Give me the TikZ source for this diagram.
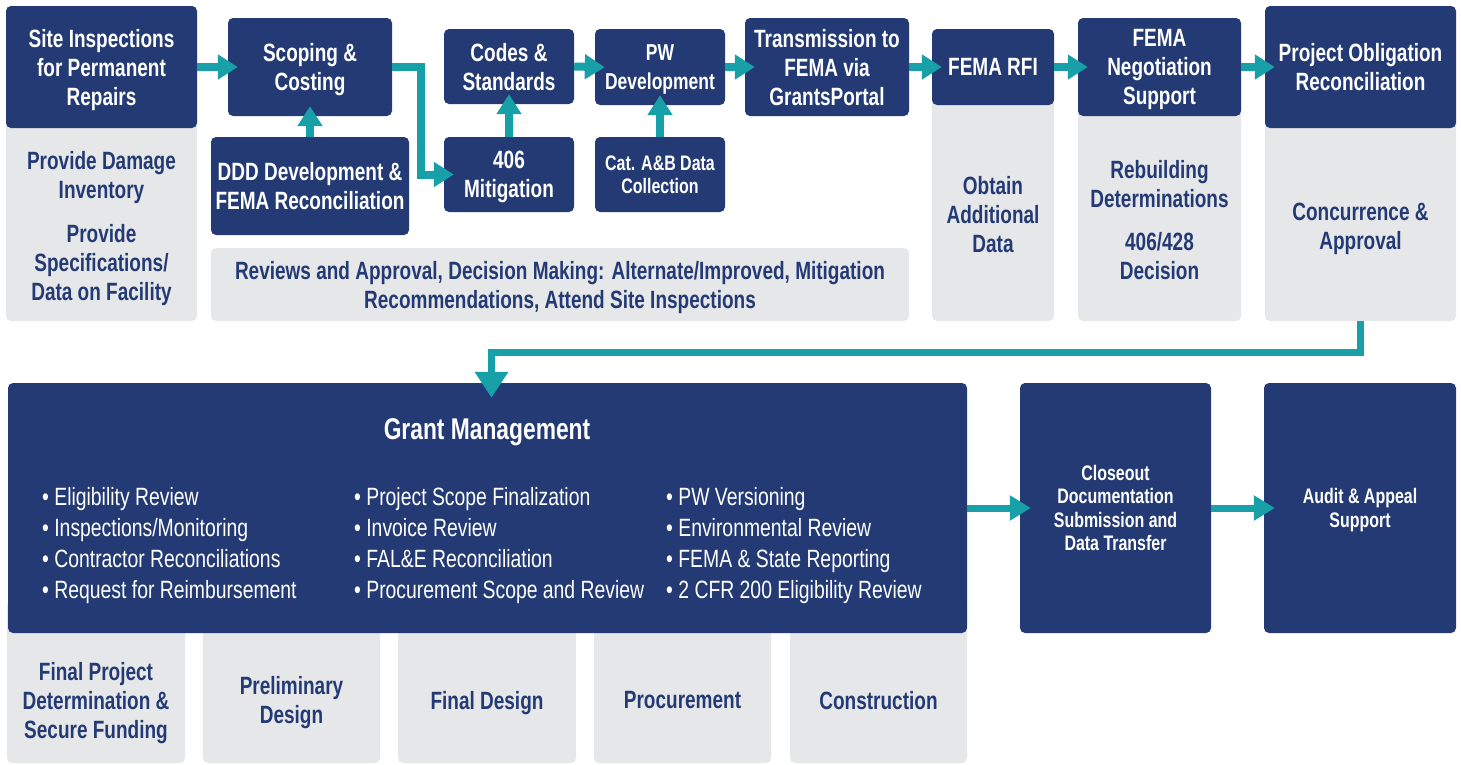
\documentclass[tikz,border=0pt]{standalone}
\usepackage{fontspec}
\setmainfont{Liberation Sans}[UprightFeatures={FakeStretch=0.775}, BoldFeatures={FakeStretch=0.76}]
\usetikzlibrary{arrows.meta}
\definecolor{boxblue}{HTML}{233A74}
\definecolor{arrowteal}{HTML}{17A0A8}
\definecolor{panelgrey}{HTML}{E6E7E9}

\begin{document}
\begin{tikzpicture}[x=1pt,y=1pt,yscale=-1,
    darkbox/.style={fill=boxblue, rounded corners=5pt, text=white, align=center, inner sep=0pt, text depth=0pt,
        font=\fontsize{25}{29}\selectfont\bfseries},
    greypanel/.style={fill=panelgrey, rounded corners=5pt, inner sep=0pt},
    panellabel/.style={text=boxblue, align=center, inner sep=0pt, text depth=0pt,
        font=\fontsize{25}{29}\selectfont\bfseries},
    smalltext/.style={font=\fontsize{21}{23.5}\selectfont\bfseries},
    bulletcol/.style={text=white, align=left, anchor=west, inner sep=0pt, text depth=0pt,
        font=\fontsize{25}{31}\selectfont},
    flow/.style={draw=arrowteal, line width=8pt, -{Triangle[length=20pt,width=24pt]}, shorten >=-10pt},
    lowflow/.style={draw=arrowteal, line width=7pt, -{Triangle[length=21pt,width=24pt]}, shorten >=-11pt},
    downflow/.style={draw=arrowteal, line width=7pt, -{Triangle[length=26pt,width=32pt]}, shorten >=-15pt}]
    \useasboundingbox (0,0) rectangle (1461,764);

    % grey panels behind the top row
    \node[greypanel, minimum width=191pt, minimum height=315pt] (sitepanel) at (101.5,163.5) {};
    \node[greypanel, minimum width=698pt, minimum height=73pt] (reviewpanel) at (560,284.5) {};
    \node[greypanel, minimum width=122pt, minimum height=292pt] (rfipanel) at (993,175) {};
    \node[greypanel, minimum width=163pt, minimum height=303pt] (negopanel) at (1159.5,169.5) {};
    \node[greypanel, minimum width=191pt, minimum height=315pt] (projpanel) at (1360.5,163.5) {};

    % grey panels below grant management
    \node[greypanel, minimum width=178pt, minimum height=163pt] (fundpanel) at (96,681.5) {};
    \node[greypanel, minimum width=177pt, minimum height=163pt] (prelimpanel) at (291.5,681.5) {};
    \node[greypanel, minimum width=178pt, minimum height=163pt] (finalpanel) at (487,681.5) {};
    \node[greypanel, minimum width=177pt, minimum height=163pt] (procpanel) at (682.5,681.5) {};
    \node[greypanel, minimum width=177pt, minimum height=163pt] (conspanel) at (878.5,681.5) {};

    % top row
    \node[darkbox, minimum width=191pt, minimum height=122pt] (site) at (101.5,67) {Site Inspections\\for Permanent\\Repairs};
    \node[darkbox, minimum width=164pt, minimum height=98pt] (scope) at (310,67) {Scoping \&\\Costing};
    \node[darkbox, minimum width=198pt, minimum height=98pt] (ddd) at (310,186) {DDD Development \&\\FEMA Reconciliation};
    \node[darkbox, minimum width=130pt, minimum height=75pt] (codes) at (509,66.5) {Codes \&\\Standards};
    \node[darkbox, minimum width=130pt, minimum height=75pt] (mit) at (509,174.5) {406\\Mitigation};
    \node[darkbox, minimum width=130pt, minimum height=76pt, font=\fontsize{23}{29}\selectfont\bfseries] (pw) at (660,67) {PW\\Development};
    \node[darkbox, smalltext, minimum width=130pt, minimum height=75pt] (cat) at (660,174.5) {Cat. A\&B Data\\Collection};
    \node[darkbox, minimum width=164pt, minimum height=98pt] (trans) at (827,67) {Transmission to\\FEMA via\\GrantsPortal};
    \node[darkbox, minimum width=122pt, minimum height=76pt] (rfi) at (993,67) {FEMA RFI};
    \node[darkbox, minimum width=163pt, minimum height=98pt] (nego) at (1159.5,67) {FEMA\\Negotiation\\Support};
    \node[darkbox, minimum width=191pt, minimum height=122pt] (proj) at (1360.5,67) {Project Obligation\\Reconciliation};

    % texts in the grey panels
    \node[panellabel] (damage) at (101.5,175) {Provide Damage\\Inventory};
    \node[panellabel] (specs) at (101.5,262) {Provide\\Specifications/\\Data on Facility};
    \node[panellabel] (reviews) at (560,285) {Reviews and Approval, Decision Making: Alternate/Improved, Mitigation\\Recommendations, Attend Site Inspections};
    \node[panellabel] (obtain) at (993,214.5) {Obtain\\Additional\\Data};
    \node[panellabel] (rebuild) at (1159.5,184) {Rebuilding\\Determinations};
    \node[panellabel] (decision) at (1159.5,256) {406/428\\Decision};
    \node[panellabel] (concur) at (1360.5,226) {Concurrence \&\\Approval};

    % bottom row
    \node[darkbox, minimum width=959pt, minimum height=250pt] (grant) at (487.5,508) {};
    \node[darkbox, smalltext, minimum width=191pt, minimum height=250pt] (close) at (1115.5,508) {Closeout\\Documentation\\Submission and\\Data Transfer};
    \node[darkbox, smalltext, minimum width=192pt, minimum height=250pt] (audit) at (1360,508) {Audit \& Appeal\\Support};

    \node[text=white, inner sep=0pt, font=\fontsize{30}{33}\selectfont\bfseries] (gmtitle) at (487,432) {Grant Management};
    \node[bulletcol] (colone) at (42,543) {•~Eligibility Review\\•~Inspections/Monitoring\\•~Contractor Reconciliations\\•~Request for Reimbursement};
    \node[bulletcol] (coltwo) at (354,543) {•~Project Scope Finalization\\•~Invoice Review\\•~FAL\&E Reconciliation\\•~Procurement Scope and Review};
    \node[bulletcol] (colthree) at (666,543) {•~PW Versioning\\•~Environmental Review\\•~FEMA \& State Reporting\\•~2 CFR 200 Eligibility Review};

    \node[panellabel] (funding) at (96,700) {Final Project\\Determination \&\\Secure Funding};
    \node[panellabel] (prelim) at (291.5,700) {Preliminary\\Design};
    \node[panellabel] (finaldes) at (487,700) {Final Design};
    \node[panellabel] (procure) at (682.5,700) {Procurement};
    \node[panellabel] (constr) at (878.5,700) {Construction};

    % connectors
    \draw[flow] (site.east) -- (scope.west);
    \draw[flow] (scope.east) -- ++(29,0) |- (mit.west);
    \draw[flow] (ddd.north) -- (scope.south);
    \draw[flow] (mit.north) -- (codes.south);
    \draw[flow] (codes.east) -- (pw.west);
    \draw[flow] (cat.north) -- (pw.south);
    \draw[flow] (pw.east) -- (trans.west);
    \draw[flow] (trans.east) -- (rfi.west);
    \draw[flow] (rfi.east) -- (nego.west);
    \draw[flow] (nego.east) -- (proj.west);
    \draw[downflow] (projpanel.south) -- ++(0,31.5) -| ([xshift=4pt]grant.north);
    \draw[lowflow] (grant.east) -- (close.west);
    \draw[lowflow] (close.east) -- (audit.west);
\end{tikzpicture}
\end{document}
